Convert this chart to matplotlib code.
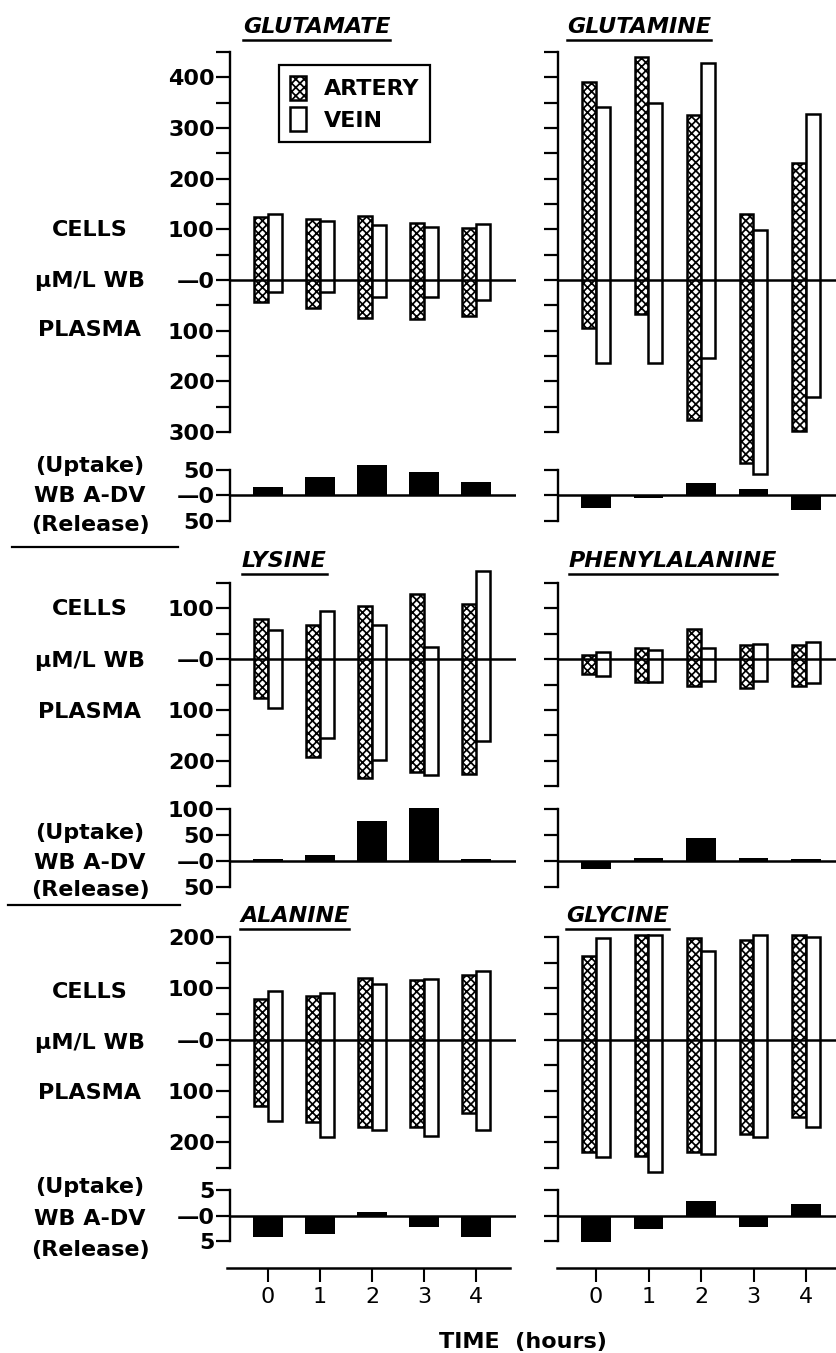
import numpy as np
import matplotlib.pyplot as plt
from matplotlib.lines import Line2D

plt.rcParams['font.family'] = ['DejaVu Sans']
plt.rcParams['font.weight'] = 'bold'
plt.rcParams['hatch.linewidth'] = 1.25

# values (uM/L whole blood); plasma values are drawn downward
times = [0, 1, 2, 3, 4]

glu_art_cells = [125, 120, 127, 113, 103]
glu_art_plasma = [43, 56, 75, 77, 71]
glu_vein_cells = [130, 117, 109, 105, 111]
glu_vein_plasma = [24, 24, 34, 34, 40]
glu_adv = [16, 36, 60, 46, 27]

gln_art_cells = [390, 440, 325, 130, 230]
gln_art_plasma = [95, 67, 277, 362, 299]
gln_vein_cells = [341, 350, 428, 99, 327]
gln_vein_plasma = [164, 164, 154, 382, 230]
gln_adv = [-25, -5, 25, 13, -29]

lys_art_cells = [80, 67, 104, 129, 108]
lys_art_plasma = [77, 192, 235, 223, 226]
lys_vein_cells = [57, 94, 67, 24, 173]
lys_vein_plasma = [96, 155, 198, 228, 161]
lys_adv = [4, 12, 76, 101, 3]

phe_art_cells = [8, 22, 59, 27, 27]
phe_art_plasma = [30, 45, 53, 56, 52]
phe_vein_cells = [14, 18, 22, 30, 33]
phe_vein_plasma = [33, 45, 43, 44, 48]
phe_adv = [-16, 5, 45, 5, 4]

ala_art_cells = [80, 86, 120, 116, 126]
ala_art_plasma = [129, 161, 171, 171, 143]
ala_vein_cells = [94, 90, 108, 118, 133]
ala_vein_plasma = [159, 190, 176, 188, 175]
ala_adv = [-4.2, -3.6, 0.7, -2.2, -4.2]

gly_art_cells = [163, 204, 198, 194, 204]
gly_art_plasma = [218, 227, 218, 184, 151]
gly_vein_cells = [198, 204, 173, 204, 200]
gly_vein_plasma = [229, 257, 222, 190, 171]
gly_adv = [-5.2, -2.6, 2.8, -2.2, 2.2]

titles = ['GLUTAMATE', 'GLUTAMINE', 'LYSINE', 'PHENYLALANINE', 'ALANINE', 'GLYCINE']

W, H = 837, 1353
fig = plt.figure(figsize=(W / 100, H / 100), dpi=100)


def px_axes(left, right, top, bottom):
    return fig.add_axes([left / W, 1 - bottom / H, (right - left) / W, (bottom - top) / H])


def fy(y):
    return 1 - y / H


def tick_text(v):
    if v == 0:
        return '\u20140'
    return str(abs(int(v)))


# layout in pixels (rows of the figure)
main_px = [(52, 432), (583, 786), (937, 1168)]
main_lim = [(-300, 450), (-250, 150), (-250, 200)]
adv_px = [(470, 521), (809, 887), (1190, 1241)]
adv_lim = [(-50, 50), (-50, 100), (-5, 5)]
adv_ticks = [[-50, 0, 50], [-50, 0, 50, 100], [-5, 0, 5]]
col_px = [(230, 516, 268, 52.0), (558, 840, 596, 52.5)]

panels = [
    (glu_art_cells, glu_art_plasma, glu_vein_cells, glu_vein_plasma, glu_adv),
    (gln_art_cells, gln_art_plasma, gln_vein_cells, gln_vein_plasma, gln_adv),
    (lys_art_cells, lys_art_plasma, lys_vein_cells, lys_vein_plasma, lys_adv),
    (phe_art_cells, phe_art_plasma, phe_vein_cells, phe_vein_plasma, phe_adv),
    (ala_art_cells, ala_art_plasma, ala_vein_cells, ala_vein_plasma, ala_adv),
    (gly_art_cells, gly_art_plasma, gly_vein_cells, gly_vein_plasma, gly_adv),
]


def style(ax, lim, ticks, labels, show):
    for s in ['top', 'right', 'bottom']:
        ax.spines[s].set_visible(False)
    ax.spines['left'].set_linewidth(1.7)
    ax.set_ylim(*lim)
    ax.set_xticks([])
    ax.set_yticks(ticks)
    if show:
        ax.set_yticklabels(labels)
    else:
        ax.set_yticklabels([])
    ax.tick_params(axis='y', direction='out', length=10, width=1.6, pad=1, labelsize=16)
    ax.axhline(0, color='black', lw=1.8, zorder=4)
    ax.patch.set_alpha(0)


legend_handles = None
x = np.array(times)
for i, (ac, ap, vc, vp, adv) in enumerate(panels):
    row, col = divmod(i, 2)
    left, right, t0, scale = col_px[col]
    xlim = ((left - t0) / scale, (right - t0) / scale)

    ax = px_axes(left, right, *main_px[row])
    ax.set_xlim(*xlim)
    a = ax.bar(x - 0.13, np.add(ac, ap), bottom=-np.array(ap), width=0.26,
               facecolor='white', edgecolor='black', hatch='xxxx', lw=1.8,
               clip_on=False, zorder=2, label='ARTERY')
    v = ax.bar(x + 0.13, np.add(vc, vp), bottom=-np.array(vp), width=0.26,
               facecolor='white', edgecolor='black', lw=1.8,
               clip_on=False, zorder=2, label='VEIN')
    lo, hi = main_lim[row]
    ticks = list(range(lo, hi + 1, 50))
    labels = [tick_text(t) if t % 100 == 0 else '' for t in ticks]
    style(ax, main_lim[row], ticks, labels, col == 0)
    if i == 0:
        legend_handles = [a, v]

    ax2 = px_axes(left, right, *adv_px[row])
    ax2.set_xlim(*xlim)
    ax2.bar(x, adv, width=0.56, color='black', clip_on=False, zorder=2)
    style(ax2, adv_lim[row], adv_ticks[row], [tick_text(t) for t in adv_ticks[row]], col == 0)

# left-hand row captions
caption_x = 90
caption_rows = [
    [('CELLS', 228), ('\u03bcM/L WB', 279), ('PLASMA', 328),
     ('(Uptake)', 464), ('WB A-DV', 494), ('(Release)', 523)],
    [('CELLS', 607), ('\u03bcM/L WB', 659), ('PLASMA', 710),
     ('(Uptake)', 831), ('WB A-DV', 861), ('(Release)', 888)],
    [('CELLS', 990), ('\u03bcM/L WB', 1041), ('PLASMA', 1091),
     ('(Uptake)', 1185), ('WB A-DV', 1217), ('(Release)', 1248)],
]
for rows in caption_rows:
    for txt, y in rows:
        fig.text(caption_x / W, fy(y), txt, ha='center', va='center_baseline', fontsize=16)

# separators between rows on the left
for y, x0, x1 in [(547, 12, 178), (905, 8, 180)]:
    fig.add_artist(Line2D([x0 / W, x1 / W], [fy(y), fy(y)], color='black', lw=1.6))

# panel titles, underlined
title_pos = [(243, 33), (567, 33), (242, 567), (569, 567), (240, 922), (566, 922)]
title_objs = []
for name, (tx, ty) in zip(titles, title_pos):
    t = fig.text(tx / W, fy(ty), name, ha='left', va='baseline', fontsize=16,
                 fontstyle='italic', fontweight='bold')
    title_objs.append((t, ty))

fig.canvas.draw()
renderer = fig.canvas.get_renderer()
for t, ty in title_objs:
    bb = t.get_window_extent(renderer)
    yy = fy(ty + 7)
    fig.add_artist(Line2D([bb.x0 / W, bb.x1 / W], [yy, yy], color='black', lw=1.8))

# legend
fig.legend(legend_handles, ['ARTERY', 'VEIN'], loc='upper left',
           bbox_to_anchor=(279 / W, fy(65)), bbox_transform=fig.transFigure,
           fontsize=16, frameon=True, fancybox=False, edgecolor='black',
           framealpha=1, borderpad=0.5, handlelength=0.7, handleheight=1.25,
           handletextpad=0.8, labelspacing=0.35, borderaxespad=0)
fig.legends[0].get_frame().set_linewidth(1.6)

# time axes at the bottom
for left, right, t0, scale in [(227, 510, 268, 52.0), (557, 840, 596, 52.5)]:
    axt = px_axes(left, right, 1267, 1268)
    axt.set_xlim((left - t0) / scale, (right - t0) / scale)
    for s in ['top', 'right', 'left']:
        axt.spines[s].set_visible(False)
    axt.spines['bottom'].set_linewidth(1.8)
    axt.set_yticks([])
    axt.set_xticks(times)
    axt.tick_params(axis='x', direction='out', length=10, width=1.5, pad=4, labelsize=16)
    for lab in axt.get_xticklabels():
        lab.set_fontweight('normal')
    axt.patch.set_alpha(0)

fig.text(523 / W, fy(1340), 'TIME  (hours)', ha='center', va='center_baseline', fontsize=16)

fig.savefig('out.png', dpi=100)
